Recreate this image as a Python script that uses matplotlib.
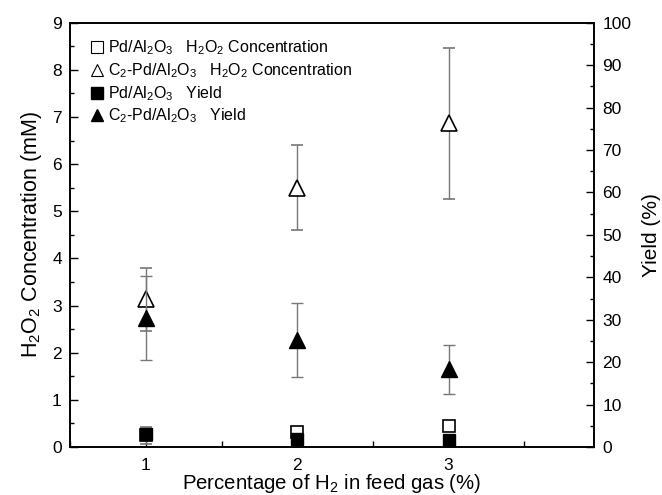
import matplotlib
matplotlib.use("Agg")
import matplotlib.pyplot as plt
from matplotlib.ticker import MultipleLocator
from matplotlib.lines import Line2D

plt.rcParams['font.family'] = ['Liberation Sans', 'DejaVu Sans']
plt.rcParams['mathtext.fontset'] = 'custom'
plt.rcParams['mathtext.rm'] = 'Liberation Sans'
plt.rcParams['mathtext.it'] = 'Liberation Sans'

h2_pct = [1, 2, 3]
pd_conc = [0.25, 0.31, 0.45]
pd_conc_err = [0.18, 0.0, 0.0]
c2_conc = [3.13, 5.50, 6.87]
c2_conc_err = [0.67, 0.90, 1.60]
pd_yield = [3.0, 1.8, 1.7]
pd_yield_err = [0.0, 0.0, 0.0]
c2_yield = [30.5, 25.2, 18.3]
c2_yield_err = [9.9, 8.7, 5.8]

fig = plt.figure(figsize=(6.62, 4.95), dpi=100)
ax = fig.add_axes([0.106, 0.097, 0.791, 0.857])
ax2 = ax.twinx()

ekw = dict(ecolor='#777777', elinewidth=1.0, capsize=4.5, capthick=1.0, linestyle='none')

h1 = ax.errorbar(h2_pct, pd_conc, yerr=pd_conc_err, marker='s', ms=9, mfc='white',
                 mec='black', mew=1.2, **ekw)
h2 = ax.errorbar(h2_pct, c2_conc, yerr=c2_conc_err, marker='^', ms=11, mfc='white',
                 mec='black', mew=1.2, **ekw)
h3 = ax2.errorbar(h2_pct, pd_yield, yerr=pd_yield_err, marker='s', ms=9, mfc='black',
                  mec='black', mew=1.0, **ekw)
h4 = ax2.errorbar(h2_pct, c2_yield, yerr=c2_yield_err, marker='^', ms=11, mfc='black',
                  mec='black', mew=1.0, **ekw)

ax.set_xlim(0.5, 3.96)
ax.set_ylim(0, 9)
ax2.set_ylim(0, 100)
ax.set_xticks([1, 2, 3])
ax.xaxis.set_minor_locator(MultipleLocator(0.5))
ax.yaxis.set_major_locator(MultipleLocator(1))
ax.yaxis.set_minor_locator(MultipleLocator(0.5))
ax2.yaxis.set_major_locator(MultipleLocator(10))
ax2.yaxis.set_minor_locator(MultipleLocator(5))

for a in (ax, ax2):
    a.tick_params(which='both', direction='in', labelsize=12.5, width=1.0)
    a.tick_params(which='major', length=6)
    a.tick_params(which='minor', length=3)
    for s in a.spines.values():
        s.set_linewidth(1.2)
ax.tick_params(axis='x', which='minor', length=4)
ax.tick_params(axis='x', pad=8)
ax.tick_params(axis='y', pad=6)
ax2.tick_params(axis='y', pad=6)

ax.set_xlabel('Percentage of H$_2$ in feed gas (%)', fontsize=14.7, labelpad=-1)
ax.set_ylabel('H$_2$O$_2$ Concentration (mM)', fontsize=15.5, labelpad=6)
ax2.set_ylabel('Yield (%)', fontsize=15, labelpad=8)

labels = ['Pd/Al$_2$O$_3$   H$_2$O$_2$ Concentration',
          'C$_2$-Pd/Al$_2$O$_3$   H$_2$O$_2$ Concentration',
          'Pd/Al$_2$O$_3$   Yield',
          'C$_2$-Pd/Al$_2$O$_3$   Yield']
proxies = [Line2D([], [], linestyle='none', marker='s', ms=8, mfc='white', mec='black', mew=0.8),
           Line2D([], [], linestyle='none', marker='^', ms=9, mfc='white', mec='black', mew=0.8),
           Line2D([], [], linestyle='none', marker='s', ms=8, mfc='black', mec='black'),
           Line2D([], [], linestyle='none', marker='^', ms=9, mfc='black', mec='black')]
ax2.legend(proxies, labels, loc='upper left', bbox_to_anchor=(0.02, 0.985), frameon=False,
           fontsize=11.5, handlelength=0.8, handletextpad=0.3, labelspacing=0.25,
           borderaxespad=0.2)

fig.savefig('out.png', dpi=100)
